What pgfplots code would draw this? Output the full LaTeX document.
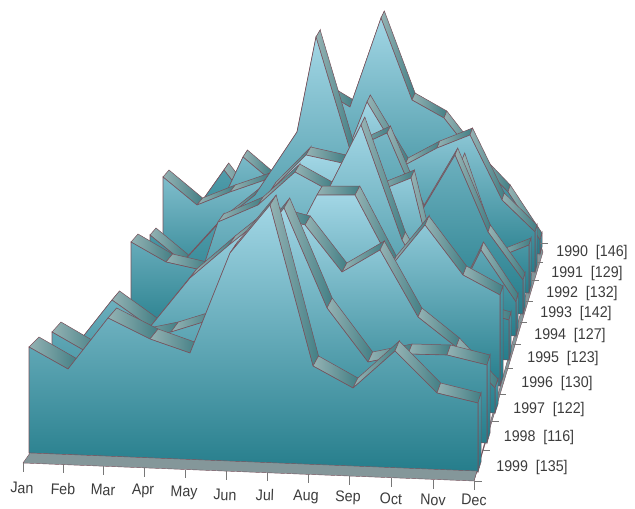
\documentclass[border=0pt]{standalone}
\usepackage{pgfplots}
\pgfplotsset{compat=1.18}
\usepackage{fontspec}
\setmainfont{Liberation Sans}
\definecolor{edge}{HTML}{77525C}
\definecolor{bevelA}{HTML}{94B2B3}
\definecolor{bevelB}{HTML}{437F85}
\definecolor{faceTop}{HTML}{A2D6E5}
\definecolor{faceBot}{HTML}{257D8B}
\definecolor{wallTop}{HTML}{4A9DAB}
\definecolor{wallBot}{HTML}{1F7886}
\definecolor{floorgrey}{HTML}{84979A}
\definecolor{labelgrey}{HTML}{3C3C3C}

% One ribbon: #1 front-edge vertices Jan..Dec, #2 #3 depth shift in x at Jan and Dec,
% #4 depth shift in y, #5 #6 baseline height at Jan and Dec.
\newcommand{\ribbon}[6]{%
  \gdef\facepts{}%
  \foreach \cx/\cy [count=\ci from 0] in {#1} {%
    \pgfmathsetmacro{\bx}{\cx+#2+(#3-#2)*\ci/11}%
    \pgfmathsetmacro{\by}{\cy-#4}%
    \ifnum\ci>0
      \edef\seg{\noexpand\addplot[shade,left color=bevelA,right color=bevelB,draw=edge,line width=0.5pt]
        coordinates {(\lastx,\lasty)(\cx,\cy)(\bx,\by)(\lastbx,\lastby)} -- cycle;}%
      \seg
    \else
      \xdef\firstx{\cx}%
    \fi
    \xdef\lastx{\cx}\xdef\lasty{\cy}\xdef\lastbx{\bx}\xdef\lastby{\by}%
    \xdef\facepts{\facepts(\cx,\cy)}%
  }%
  \pgfmathsetmacro{\wallx}{\lastx+#3}%
  \pgfmathsetmacro{\wally}{#6-#4}%
  \edef\wall{\noexpand\addplot[shade,top color=wallTop,bottom color=wallBot,draw=edge,line width=0.5pt]
    coordinates {(\lastx,\lasty)(\lastbx,\lastby)(\wallx,\wally)(\lastx,#6)} -- cycle;}%
  \wall
  \edef\face{\noexpand\addplot[shade,top color=faceTop,bottom color=faceBot,draw=edge,line width=0.6pt]
    coordinates {\facepts(\lastx,#6)(\firstx,#5)} -- cycle;}%
  \face
}
% narrow, tall label text
\newcommand{\lbl}[1]{\scalebox{0.92}[1]{\fontsize{15.5}{17}\selectfont #1}}

\begin{document}
\begin{tikzpicture}
\useasboundingbox (0pt,0pt) rectangle (635pt,509pt);
\begin{axis}[
  at={(0pt,0pt)}, anchor=south west,
  x=1pt, y=1pt, xmin=0, xmax=635, ymin=0, ymax=509,
  y dir=reverse, hide axis, clip=false,
]
% floor
\addplot[fill=floorgrey,draw=edge,line width=0.4pt] coordinates {(474,481)(477,471)(543,252)(540,243)} -- cycle;

% ribbons from the back row to the front row
\ribbon{192/215,224/170,255/210,287/180,318/88,350/107,381/18,412/100,444/118,477/160,508/192,540/240}{5}{2}{7}{240}{254}
\ribbon{178/205,211/225,243/157,268/178,305/180,342/165,367/102,405/165,437/148,470/135,502/200,535/232}{5}{2}{7}{258}{272}
\ribbon{163/177,197/205,230/192,265/180,297/170,330/190,360/132,396/210,429/290,462/160,496/258,529/245}{6}{2}{7}{278}{293}
\ribbon{150/235,183/262,217/225,255/195,297/132,316/37,350/150,387/133,421/212,455/155,488/232,523/280}{6}{2}{7}{298}{314}
\ribbon{131/242,166/262,201/270,236/255,271/190,306/155,342/163,376/192,411/178,446/320,481/250,516/302}{7}{2}{8}{320}{336}
\ribbon{111/320,147/340,183/330,218/222,258/205,295/172,328/190,361/125,402/240,437/300,473/310,509/320}{7}{2}{8}{343}{360}
\ribbon{87/372,125/370,162/330,200/290,237/260,278/270,317/195,355/195,392/265,425/225,463/275,500/295}{8}{3}{9}{368}{386}
\ribbon{74/348,112/300,150/327,190/278,229/245,267/215,305/225,342/272,380/250,418/317,456/347,495/388}{8}{3}{9}{395}{413}
\ribbon{52/332,92/355,131/340,171/332,210/320,250/250,284/208,327/308,368/362,408/354,447/355,487/365}{9}{3}{10}{425}{443}
\ribbon{29/347,68/369,108/318,150/339,190/353,230/253,270/205,313/366,353/388,395/351,437/393,478/403}{10}{3}{10}{453}{472}

% front edge of the floor
\addplot[fill=floorgrey,draw=edge,line width=0.4pt] coordinates {(23,463)(30,453)(477,471)(474,481)} -- cycle;

% month ticks
\addplot[labelgrey!70,line width=0.4pt] coordinates {(23,463)(23,472)};
\addplot[labelgrey!70,line width=0.4pt] coordinates {(63,464)(63,473)};
\addplot[labelgrey!70,line width=0.4pt] coordinates {(103,466)(103,475)};
\addplot[labelgrey!70,line width=0.4pt] coordinates {(144,468)(144,477)};
\addplot[labelgrey!70,line width=0.4pt] coordinates {(185,470)(185,478)};
\addplot[labelgrey!70,line width=0.4pt] coordinates {(226,471)(226,480)};
\addplot[labelgrey!70,line width=0.4pt] coordinates {(267,473)(267,481)};
\addplot[labelgrey!70,line width=0.4pt] coordinates {(308,474)(308,483)};
\addplot[labelgrey!70,line width=0.4pt] coordinates {(349,476)(349,485)};
\addplot[labelgrey!70,line width=0.4pt] coordinates {(391,478)(391,487)};
\addplot[labelgrey!70,line width=0.4pt] coordinates {(433,480)(433,489)};
\addplot[labelgrey!70,line width=0.4pt] coordinates {(474,481)(474,490)};

% depth ticks
\addplot[labelgrey!70,line width=0.4pt] coordinates {(474,481)(482,481)};
\addplot[labelgrey!70,line width=0.4pt] coordinates {(483,450)(490,450)};
\addplot[labelgrey!70,line width=0.4pt] coordinates {(492,421)(499,421)};
\addplot[labelgrey!70,line width=0.4pt] coordinates {(499,394)(506,394)};
\addplot[labelgrey!70,line width=0.4pt] coordinates {(506,368)(513,368)};
\addplot[labelgrey!70,line width=0.4pt] coordinates {(513,344)(521,344)};
\addplot[labelgrey!70,line width=0.4pt] coordinates {(520,322)(527,322)};
\addplot[labelgrey!70,line width=0.4pt] coordinates {(526,301)(533,301)};
\addplot[labelgrey!70,line width=0.4pt] coordinates {(532,280)(539,280)};
\addplot[labelgrey!70,line width=0.4pt] coordinates {(537,262)(543,262)};
\addplot[labelgrey!70,line width=0.4pt] coordinates {(540,243)(548,243)};

% month names
\foreach \mx/\my/\mn in {22/488/Jan,63/489/Feb,103/490/Mar,143/491/Apr,184/493/May,225/495/Jun,265/495/Jul,306/497/Aug,348/498/Sep,391/499/Oct,433/500/Nov,474/500/Dec}{
  \edef\lab{\noexpand\node[text=labelgrey,inner sep=0pt,rotate=-2] at (axis cs:\mx,\my) {\noexpand\lbl{\mn}};}\lab
}
% year names with their totals
\foreach \yx/\yy/\yn/\yt in {592/252/1990/146,587/273/1991/129,582/293/1992/132,576/313/1993/142,570/335/1994/127,563/358/1995/123,557/383/1996/130,549/409/1997/122,539/437/1998/116,532/467/1999/135}{
  \edef\lab{\noexpand\node[text=labelgrey,inner sep=0pt] at (axis cs:\yx,\yy) {\noexpand\lbl{\yn\noexpand~\noexpand~[\yt]}};}\lab
}
\end{axis}
\end{tikzpicture}
\end{document}
